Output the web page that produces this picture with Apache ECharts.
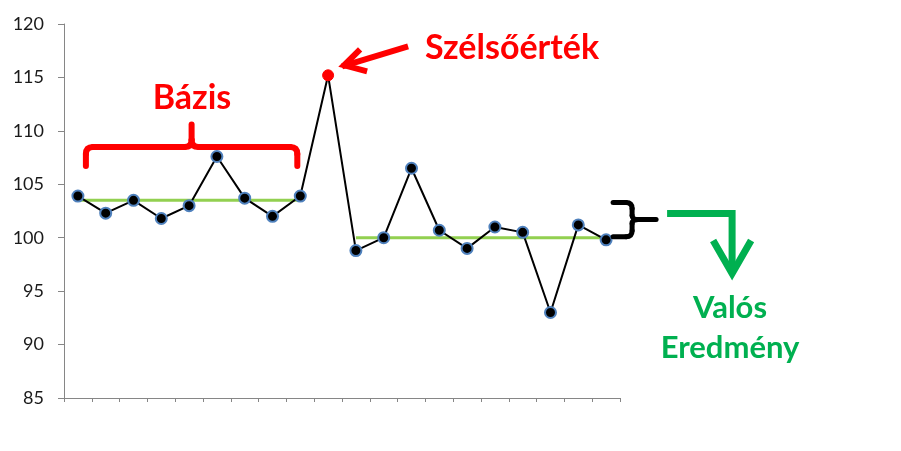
<!DOCTYPE html>
<html><head><meta charset="utf-8">
<script src="https://cdn.jsdelivr.net/npm/echarts@6/dist/echarts.min.js"></script>
<style>html,body{margin:0;padding:0;background:#fff}#c{width:901px;height:451px}</style>
</head><body><div id="c"></div>
<script>
const categories = ['1','2','3','4','5','6','7','8','9','10','11','12','13','14','15','16','17','18','19','20'];
const values = [103.9, 102.3, 103.5, 101.8, 103.0, 107.6, 103.7, 102.0, 103.9, 115.2, 98.8, 100.0, 106.5, 100.7, 99.0, 101.0, 100.5, 93.0, 101.2, 99.8];
const baseLevel = [103.5, 103.5, 103.5, 103.5, 103.5, 103.5, 103.5, 103.5, 103.5, null, null, null, null, null, null, null, null, null, null, null];
const actualLevel = [null, null, null, null, null, null, null, null, null, null, 100, 100, 100, 100, 100, 100, 100, 100, 100, 100];
const outlierIndex = 9;
const yTicks = { min: 85, max: 120, interval: 5 };

const chart = echarts.init(document.getElementById('c'), null, {renderer: 'canvas'});
const pointData = values.map((v, i) => i === outlierIndex
  ? { value: v, itemStyle: { color: '#FF0000', borderColor: '#FF0000', borderWidth: 1 } }
  : v);

chart.setOption({
  animation: false,
  grid: { left: 64, top: 24, width: 556, height: 374, containLabel: false },
  xAxis: {
    type: 'category', data: categories, boundaryGap: true,
    axisLine: { lineStyle: { color: '#868686', width: 1 } },
    axisTick: { show: true, interval: 0, length: 4, lineStyle: { color: '#868686' } },
    axisLabel: { show: false }, splitLine: { show: false }
  },
  yAxis: {
    type: 'value', min: yTicks.min, max: yTicks.max, interval: yTicks.interval,
    axisLine: { show: true, lineStyle: { color: '#868686', width: 1 } },
    axisTick: { show: true, length: 6, lineStyle: { color: '#868686' } },
    axisLabel: { fontFamily: 'Lato', fontSize: 18, color: '#1a1a1a', margin: 20 },
    splitLine: { show: false }
  },
  series: [
    { type: 'line', data: baseLevel, symbol: 'none', lineStyle: { color: '#92D050', width: 3 }, z: 1 },
    { type: 'line', data: actualLevel, symbol: 'none', lineStyle: { color: '#92D050', width: 3 }, z: 1 },
    { type: 'line', data: pointData, symbol: 'circle', symbolSize: 11,
      lineStyle: { color: '#000', width: 2 },
      itemStyle: { color: '#000', borderColor: '#4F81BD', borderWidth: 2 }, z: 3 }
  ]
});

const px = (i, v) => chart.convertToPixel({ gridIndex: 0 }, [i, v]);

function seg(a, b, stroke, w) {
  return { type: 'line', shape: { x1: a[0], y1: a[1], x2: b[0], y2: b[1] }, style: { stroke, lineWidth: w, lineCap: 'round' }, z: 10 };
}
function curve(a, c, b, stroke, w) {
  return { type: 'bezierCurve', shape: { x1: a[0], y1: a[1], cpx1: c[0], cpy1: c[1], x2: b[0], y2: b[1] }, style: { stroke, lineWidth: w, fill: null, lineCap: 'round' }, z: 10 };
}

const RED = '#FF0000', GREEN = '#00B050';
const els = [];

// red brace over baseline points
const bL = px(0, 0)[0] + 8, bR = px(8, 0)[0] - 3, bM = (bL + bR) / 2;
const bY = px(0, 108.5)[1], bBot = px(0, 106.7)[1], bTop = px(0, 110.6)[1];
els.push(
  seg([bL, bBot], [bL, bY + 7], RED, 6),
  curve([bL, bY + 7], [bL, bY], [bL + 7, bY], RED, 6),
  seg([bL + 7, bY], [bM - 7, bY], RED, 6),
  curve([bM - 7, bY], [bM, bY], [bM, bY - 7], RED, 6),
  seg([bM, bY - 7], [bM, bTop], RED, 6),
  curve([bM, bY - 7], [bM, bY], [bM + 7, bY], RED, 6),
  seg([bM + 7, bY], [bR - 7, bY], RED, 6),
  curve([bR - 7, bY], [bR, bY], [bR, bY + 7], RED, 6),
  seg([bR, bY + 7], [bR, bBot], RED, 6)
);

// black brace to the right of final points
const kx = px(19, 0)[0] + 7, kTop = px(0, 103.3)[1], kBot = px(0, 100.1)[1], kMid = (kTop + kBot) / 2;
const kC = kx + 19;
els.push(
  seg([kx, kTop], [kC - 6, kTop], '#000', 5),
  curve([kC - 6, kTop], [kC, kTop], [kC, kTop + 6], '#000', 5),
  seg([kC, kTop + 6], [kC, kMid - 4], '#000', 5),
  curve([kC, kMid - 4], [kC, kMid], [kC + 6, kMid], '#000', 5),
  seg([kC + 6, kMid], [kC + 24, kMid], '#000', 5),
  curve([kC, kMid + 4], [kC, kMid], [kC + 6, kMid], '#000', 5),
  seg([kC, kMid + 4], [kC, kBot - 6], '#000', 5),
  curve([kC, kBot - 6], [kC, kBot], [kC - 6, kBot], '#000', 5),
  seg([kC - 6, kBot], [kx, kBot], '#000', 5)
);

// red arrow pointing to outlier
const o = px(outlierIndex, values[outlierIndex]);
const tip = [o[0] + 14, o[1] - 9];
const tail = [o[0] + 80, o[1] - 29];
els.push(
  { type: 'polyline', shape: { points: [tail, tip] }, style: { stroke: RED, lineWidth: 6, fill: null }, z: 10 },
  { type: 'polyline', shape: { points: [[tip[0] + 18, tip[1] - 17], [tip[0] + 2, tip[1] - 1], [tip[0] + 25, tip[1] + 5]] }, style: { stroke: RED, lineWidth: 6, fill: null, lineJoin: 'miter' }, z: 10 }
);

// green bent arrow
const gx0 = kC + 35, gy = kMid - 6, gx1 = gx0 + 65, gTip = gy + 64;
els.push(
  { type: 'polyline', shape: { points: [[gx0, gy], [gx1, gy], [gx1, gTip - 6]] }, style: { stroke: GREEN, lineWidth: 7, fill: null, lineJoin: 'miter' }, z: 10 },
  { type: 'polyline', shape: { points: [[gx1 - 19, gTip - 37], [gx1, gTip - 4], [gx1 + 19, gTip - 37]] }, style: { stroke: GREEN, lineWidth: 7, fill: null, lineJoin: 'miter' }, z: 10 }
);

// texts
els.push(
  { type: 'text', style: { text: 'Bázis', x: 192, y: 98, align: 'center', verticalAlign: 'middle', font: 'bold 34px Lato', fill: RED }, z: 10 },
  { type: 'text', style: { text: 'Szélsőérték', x: 512, y: 48, align: 'center', verticalAlign: 'middle', font: 'bold 34px Lato', fill: RED }, z: 10 },
  { type: 'text', style: { text: 'Valós', x: 730, y: 308, align: 'center', verticalAlign: 'middle', font: 'bold 31px Lato', fill: GREEN }, z: 10 },
  { type: 'text', style: { text: 'Eredmény', x: 730, y: 348, align: 'center', verticalAlign: 'middle', font: 'bold 31px Lato', fill: GREEN }, z: 10 }
);

chart.setOption({ graphic: els });
</script></body></html>
